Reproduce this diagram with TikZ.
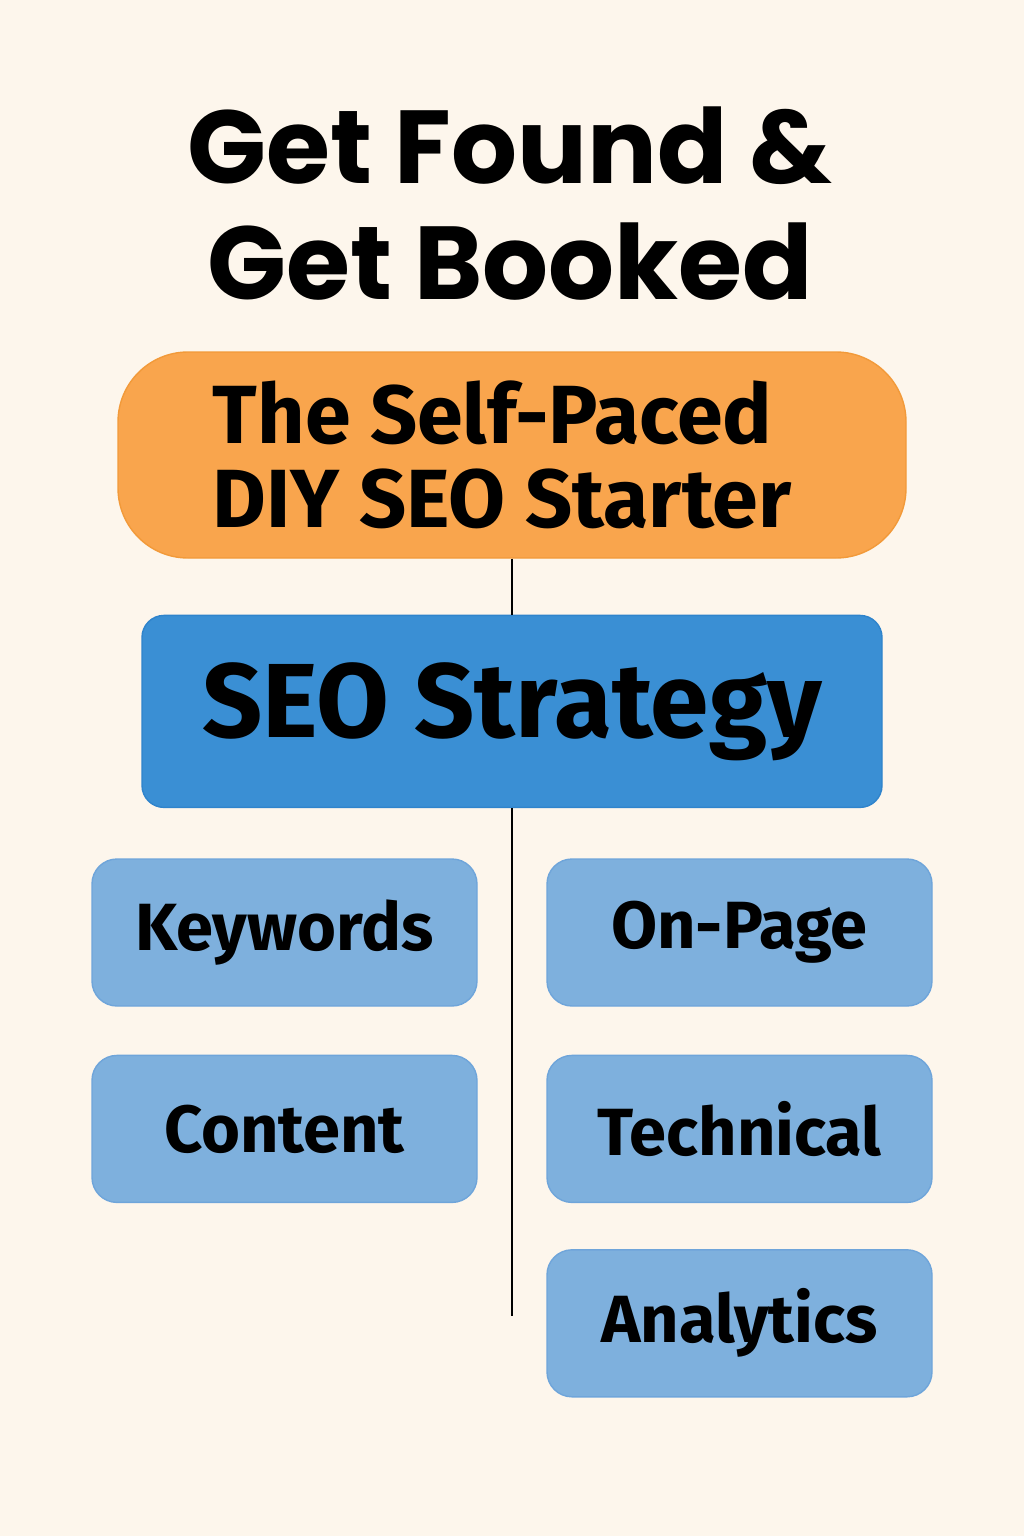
\documentclass[tikz,border=0pt]{standalone}
\usepackage{fontspec}
\setmainfont{Fira Sans}
\newfontfamily\titlefont{Poppins}
\usetikzlibrary{positioning}
\definecolor{paper}{HTML}{FDF6EC}
\definecolor{starterfill}{HTML}{F9A54D}
\definecolor{starterline}{HTML}{F29A3A}
\definecolor{strategyfill}{HTML}{3A8FD4}
\definecolor{strategyline}{HTML}{2F84CC}
\definecolor{topicfill}{HTML}{7EB0DD}
\definecolor{topicline}{HTML}{6FA5DA}
\tikzset{
  topic/.style={draw=topicline, fill=topicfill, rounded corners=0.25cm, minimum width=3.85cm, minimum height=1.47cm, font=\fontsize{19}{22}\selectfont\bfseries},
  heading/.style={anchor=base, font=\titlefont\fontsize{29.5}{34}\selectfont\bfseries},
  trunk/.style={line width=0.6pt, black}
}
\begin{document}
\begin{tikzpicture}
    \fill[paper] (0,0) rectangle (10.24,-15.36);
    \useasboundingbox (0,0) rectangle (10.24,-15.36);
    \node[heading] (title1) at (5.10,-1.83) {Get Found \&};
    \node[heading] (title2) at (5.10,-3.00) {Get Booked};
    \node[draw=starterline, fill=starterfill, rounded corners=0.7cm, minimum width=7.88cm, minimum height=2.06cm, align=left, font=\fontsize{23.5}{24}\selectfont\bfseries] (starter) at (5.12,-4.55) {\hspace*{-0.2cm}The Self-Paced\\\hspace*{-0.2cm}DIY SEO Starter};
    \node[draw=strategyline, fill=strategyfill, rounded corners=0.22cm, minimum width=7.40cm, minimum height=1.92cm, below=0.56cm of starter, font=\fontsize{30}{34}\selectfont\bfseries] (strategy) {\raisebox{-0.06cm}{SEO Strategy}};
    \node[topic] (keywords) at (2.845,-9.325) {Keywords};
    \node[topic] (onpage) at (7.395,-9.325) {On-Page};
    \node[topic, below=0.48cm of keywords] (content) {Content};
    \node[topic, below=0.48cm of onpage] (technical) {Technical};
    \node[topic, below=0.46cm of technical] (analytics) {Analytics};
    \coordinate (trunkend) at (5.12,-13.16);
    \draw[trunk] (starter) -- (strategy);
    \draw[trunk] (strategy) -- (trunkend);
\end{tikzpicture}
\end{document}
